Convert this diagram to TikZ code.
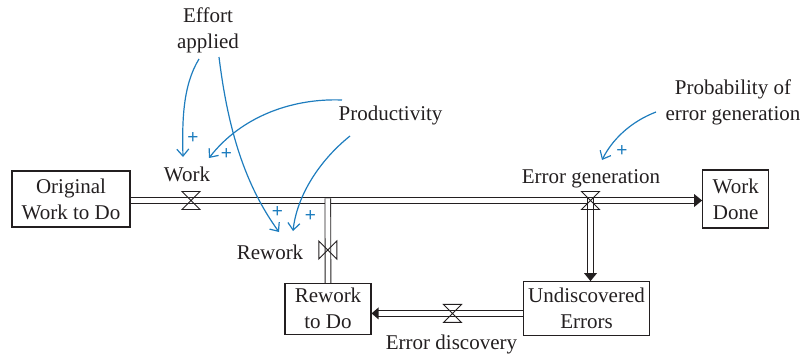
\documentclass[tikz,border=0pt]{standalone}
\usepackage{fontspec}
\setmainfont{Liberation Serif}
\setsansfont{Liberation Sans}
\usetikzlibrary{arrows.meta}
\definecolor{ink}{RGB}{35,31,32}
\definecolor{linkblue}{RGB}{30,125,190}
\begin{document}
\begin{tikzpicture}[x=1pt,y=-1pt, font=\fontsize{21}{26}\selectfont, text=ink,
  stock/.style={draw=ink, line width=1.1pt, inner sep=0pt, align=center},
  pipe/.style={draw=ink, line width=0.9pt, double=white, double distance=4.8pt},
  valvestyle/.style={draw=ink, line width=0.9pt},
  link/.style={draw=linkblue, line width=1.2pt, -{Straight Barb[length=7pt,width=12pt]}},
  plus/.style={text=linkblue, font=\sffamily\fontsize{19}{19}\selectfont, inner sep=0pt},
  lbl/.style={inner sep=0pt, align=center}]
\useasboundingbox (0,0) rectangle (802,357);

% stocks
\node[stock, minimum width=118pt, minimum height=56pt] (orig) at (71,199) {Original\\Work to Do};
\node[stock, minimum width=66pt, minimum height=58pt] (done) at (735.7,199) {Work\\Done};
\node[stock, minimum width=86pt, minimum height=51pt] (rtd) at (328,308.8) {Rework\\to Do};
\node[stock, minimum width=125.6pt, minimum height=54pt] (undisc) at (586.5,308.7) {Undiscovered\\Errors};

% valve centres and junctions
\coordinate (vw) at (191,200.5);
\coordinate (vg) at (590.5,200.5);
\coordinate (vr) at (327.8,250);
\coordinate (vd) at (452.5,313.4);
\coordinate (jr) at (327.8,198.4);
\coordinate (jg) at (590.5,198.4);
\coordinate (dw) at (done.west |- vw);
\coordinate (ug) at (jg |- undisc.north);
\coordinate (ur) at (rtd.east |- vd);
\coordinate (ul) at (undisc.west |- vd);

% pipes
\draw[pipe] (orig.east |- vw) -- ([xshift=-6pt]dw);
\fill[ink] (dw) -- ++(-8,-6.5) -- ++(0,13) -- cycle;
\draw[pipe] (jr) -- (rtd.north);
\draw[pipe] (jg) -- ([yshift=6pt]ug);
\fill[ink] (ug) -- ++(-6.5,-8) -- ++(13,0) -- cycle;
\draw[pipe] (ul) -- ([xshift=6pt]ur);
\fill[ink] (ur) -- ++(7,-6) -- ++(0,12) -- cycle;

% valves
\draw[valvestyle] (vw) -- ++(-9,-9) -- ++(18,0) -- cycle (vw) -- ++(-9,9) -- ++(18,0) -- cycle;
\draw[valvestyle] (vg) -- ++(-9,-9) -- ++(18,0) -- cycle (vg) -- ++(-9,9) -- ++(18,0) -- cycle;
\draw[valvestyle] (vd) -- ++(-9,-9) -- ++(18,0) -- cycle (vd) -- ++(-9,9) -- ++(18,0) -- cycle;
\draw[valvestyle] (vr) -- ++(-9,-9) -- ++(0,18) -- cycle (vr) -- ++(9,-9) -- ++(0,18) -- cycle;

% labels
\node[lbl] (effort) at (208,30) {Effort\\applied};
\node[lbl] (prod) at (390.5,115) {Productivity};
\node[lbl] (prob) at (733,102) {Probability of\\error generation};
\node[lbl] (worklbl) at (187,174) {Work};
\node[lbl] (genlbl) at (591,179) {Error generation};
\node[lbl] (rwlbl) at (270,252) {Rework};
\node[lbl] (disclbl) at (451.5,344) {Error discovery};

% influence links
\coordinate (e1s) at (199,59);   \coordinate (e1e) at (183,157);
\coordinate (e2s) at (219,57);   \coordinate (e2e) at (279,232);
\coordinate (p1s) at (342,100);  \coordinate (p1e) at (209,158);
\coordinate (p2s) at (350,136);  \coordinate (p2e) at (293,231);
\coordinate (q1s) at (656,112);  \coordinate (q1e) at (602,160);
\draw[link] (e1s) .. controls (183,85) and (182,120) .. (e1e);
\draw[link] (e2s) .. controls (228,130) and (245,185) .. (e2e);
\draw[link] (p1s) .. controls (290,98) and (240,118) .. (p1e);
\draw[link] (p2s) .. controls (320,160) and (297,195) .. (p2e);
\draw[link] (q1s) .. controls (630,122) and (612,140) .. (q1e);

\node[plus] (s1) at (193,138) {+};
\node[plus] (s2) at (226.5,154) {+};
\node[plus] (s3) at (277.5,212.5) {+};
\node[plus] (s4) at (310.5,216.5) {+};
\node[plus] (s5) at (622,151) {+};
\end{tikzpicture}
\end{document}
